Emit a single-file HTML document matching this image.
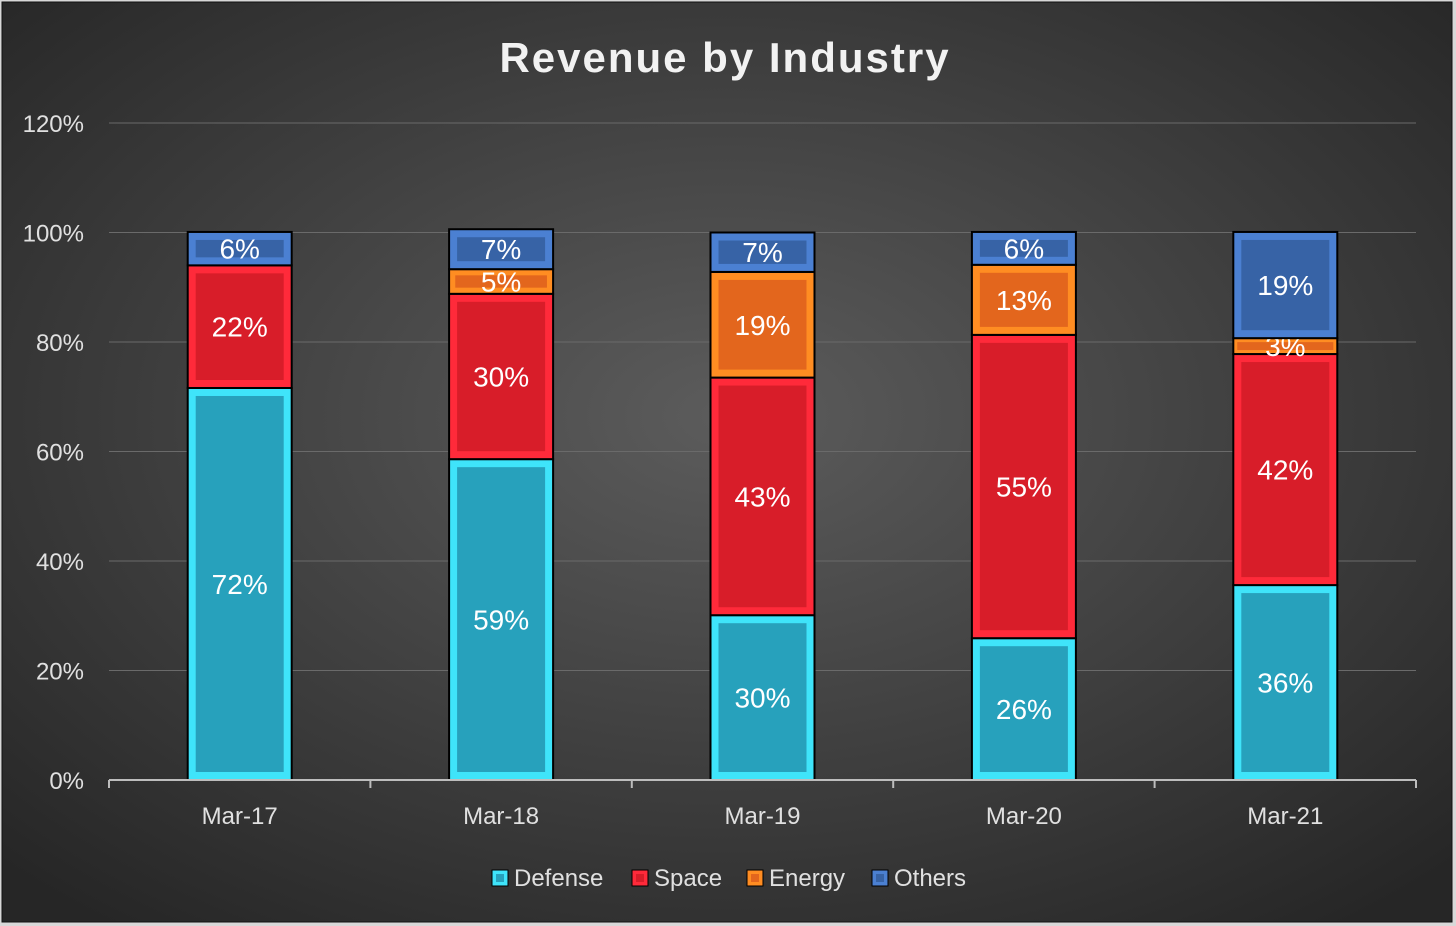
<!DOCTYPE html>
<html><head><meta charset="utf-8"><style>
html,body{margin:0;padding:0;background:#fff}
svg{display:block}
text{font-family:"Liberation Sans",sans-serif}
</style></head><body>
<svg id="chart" width="1456" height="926" xmlns="http://www.w3.org/2000/svg">
<defs>
<radialGradient id="bg" cx="50%" cy="45%" r="70%">
<stop offset="0" stop-color="#5c5c5c"/><stop offset="1" stop-color="#262626"/>
</radialGradient>
</defs>
<rect x="0" y="0" width="1456" height="926" fill="#d8d8d8"/>
<rect x="2" y="2" width="1450" height="920" fill="url(#bg)" stroke="#111" stroke-width="1"/>
<text x="725" y="72" text-anchor="middle" font-size="42" font-weight="bold" fill="#f2f2f2" letter-spacing="2">Revenue by Industry</text>
<g id="grid"></g><g id="bars"></g><g id="axes"></g><g id="legend"></g>
</svg>
<script>
const categories=["Mar-17","Mar-18","Mar-19","Mar-20","Mar-21"];
const defense=[71.6,58.6,30.1,25.9,35.6];
const space=[22.4,30.2,43.4,55.4,42.2];
const energy=[0,4.5,19.3,12.8,2.9];
const others=[6.1,7.3,7.2,6.0,19.4];
const yTicks=[0,20,40,60,80,100,120];
const seriesNames=["Defense","Space","Energy","Others"];
const NS="http://www.w3.org/2000/svg";
const colors=[["#3fe4fa","#27a1bc"],["#ff2a3a","#d81d29"],["#ff8d22","#e3661d"],["#4b80d2","#3763a6"]];
const x0=109,x1=1416,yb=780,yt=123;
const y=v=>yb-(v/120)*(yb-yt);
const band=(x1-x0)/categories.length;
const xc=i=>x0+band*(i+0.5);
const bw=104;
function mk(tag,attrs,parent){const e=document.createElementNS(NS,tag);for(const k in attrs)e.setAttribute(k,attrs[k]);parent.appendChild(e);return e;}
const grid=document.getElementById('grid'),bars=document.getElementById('bars'),axes=document.getElementById('axes'),legend=document.getElementById('legend');
yTicks.forEach(t=>{
  if(t>0){const l=mk('line',{x1:x0,x2:x1,y1:y(t),y2:y(t),stroke:'#6a6a6a','stroke-width':1},grid);
  
  }
  const tx=mk('text',{x:84,y:y(t)+9,'text-anchor':'end','font-size':24,fill:'#e0e0e0'},axes);
  tx.textContent=t+'%';
  
  
});
const ax=mk('line',{x1:x0,x2:x1,y1:yb,y2:yb,stroke:'#bdbdbd','stroke-width':2},axes);


for(let i=0;i<=categories.length;i++){
  const tk=mk('line',{x1:x0+band*i,x2:x0+band*i,y1:yb,y2:yb+8,stroke:'#bdbdbd','stroke-width':2},axes);
  
  
}
categories.forEach((c,i)=>{
  const tx=mk('text',{x:xc(i),y:824,'text-anchor':'middle','font-size':24,fill:'#e0e0e0'},axes);
  tx.textContent=c;
  
  
  const vals=[defense[i],space[i],energy[i],others[i]];
  let cum=0;
  vals.forEach((v,s)=>{
    if(v<=0){return;}
    const top=y(cum+v),bot=y(cum);cum+=v;
    const left=xc(i)-bw/2,h=bot-top;
    const g=mk('g',{},bars);
    
    
    mk('rect',{x:left,y:top,width:bw,height:h,fill:colors[s][0]},g);
    const ins=Math.min(8,h/4);
    mk('rect',{x:left+ins,y:top+ins,width:bw-2*ins,height:Math.max(0,h-2*ins),fill:colors[s][1]},g);
    mk('rect',{x:left,y:top,width:bw,height:h,fill:'none',stroke:'#000','stroke-width':2},g);
    const lb=mk('text',{x:xc(i),y:(top+bot)/2+10,'text-anchor':'middle','font-size':28,fill:'#fff'},g);
    lb.textContent=Math.round(v)+'%';
    
    
  });
});
const lx=[492,632,747,872];
seriesNames.forEach((n,s)=>{
  const g=mk('g',{},legend);
  
  
  mk('rect',{x:lx[s],y:870,width:16,height:16,fill:colors[s][0],stroke:'#000','stroke-width':1},g);
  mk('rect',{x:lx[s]+4,y:874,width:8,height:8,fill:colors[s][1]},g);
  const t=mk('text',{x:lx[s]+22,y:886,'font-size':24,fill:'#e0e0e0'},g);
  t.textContent=n;
});
</script>
</body></html>
